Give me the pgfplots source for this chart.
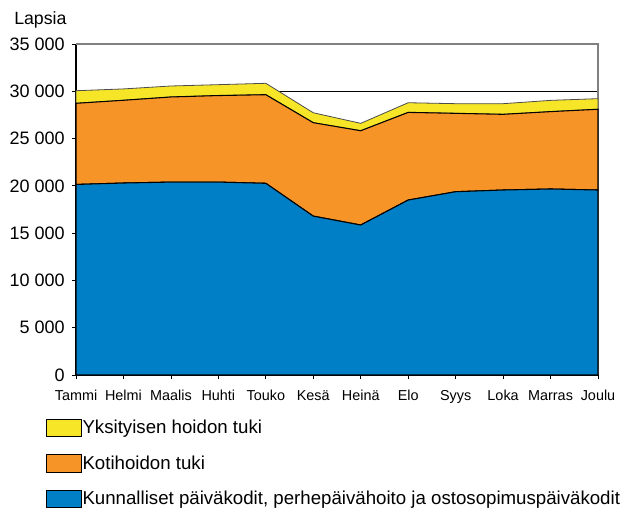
\documentclass[border=0pt]{standalone}
\usepackage{pgfplots}
\pgfplotsset{compat=1.18}
\usepackage{pgfplotstable}
\usepackage{fontspec}
\setmainfont{Liberation Sans}

\definecolor{kblue}{RGB}{0,127,198}
\definecolor{korange}{RGB}{247,148,40}
\definecolor{kyellow}{RGB}{247,230,40}

% lapsia kuukausittain: kunnalliset, kotihoidon tuki, yksityisen hoidon tuki
\pgfplotstableread{
m blue orange yellow
0 20150 8580 1330
1 20300 8750 1200
2 20400 9000 1160
3 20400 9150 1150
4 20270 9370 1205
5 16800 9880 1050
6 15860 9970 780
7 18500 9270 1020
8 19380 8290 1020
9 19560 8005 1125
10 19670 8180 1190
11 19560 8540 1120
}\lapsia

\begin{document}
\begin{tikzpicture}
\begin{axis}[
    set layers,
    clip=false,
    scale only axis,
    width=391.5pt, height=248.25pt,
    xmin=0, xmax=11, ymin=0, ymax=35000,
    stack plots=y,
    axis lines*=left,
    axis line style={black, line width=0.8pt, /pgfplots/on layer=axis foreground},
    xtick={0,...,11},
    xticklabels={Tammi,Helmi,Maalis,Huhti,Touko,Kesä,Heinä,Elo,Syys,Loka,Marras,Joulu},
    scaled y ticks=false,
    ytick={0,5000,...,35000},
    yticklabels={0,5 000,10 000,15 000,20 000,25 000,30 000,35 000},
    tick align=outside,
    major tick length=3pt,
    tick style={black, line width=0.6pt},
    xticklabel style={font=\fontsize{10.8}{12}\selectfont, text height=7.8pt, text depth=2pt, yshift=-5pt},
    yticklabel style={font=\fontsize{13.5}{16}\selectfont, xshift=-2pt},
    ymajorgrids,
    grid style={black, line width=0.6pt},
    reverse legend,
    legend cell align=left,
    legend style={draw=none, fill=none, at={(0,0)}, anchor=north west,
        xshift=-25.5pt, yshift=-30.5pt, row sep=13pt,
        font=\fontsize{14}{16}\selectfont,
        nodes={inner xsep=0.5pt, inner ysep=0pt}},
    legend image code/.code={
        \draw[#1, draw=black, line width=0.7pt] (0pt,-6.5pt) rectangle (26pt,6.5pt);},
]
\addplot[fill=kblue, draw=black, line width=0.8pt] table[x=m, y=blue] {\lapsia} \closedcycle;
\addlegendentry{Kunnalliset päiväkodit, perhepäivähoito ja ostosopimuspäiväkodit}
\addplot[fill=korange, draw=black, line width=0.8pt] table[x=m, y=orange] {\lapsia} \closedcycle;
\addlegendentry{Kotihoidon tuki}
\addplot[fill=kyellow, draw=black!70, line width=0.6pt] table[x=m, y=yellow] {\lapsia} \closedcycle;
\addlegendentry{Yksityisen hoidon tuki}
\draw[gray, line width=0.8pt] (rel axis cs:0,1) -- (rel axis cs:1,1) -- (rel axis cs:1,0);
\node[anchor=west, inner sep=0pt, font=\fontsize{13.3}{16}\selectfont] at (rel axis cs:0,1) [xshift=-46.5pt, yshift=18pt] {Lapsia};
\end{axis}
\pgfresetboundingbox
\path (-57pt,-99.75pt) rectangle (410.25pt,281.25pt);
\end{tikzpicture}
\end{document}
